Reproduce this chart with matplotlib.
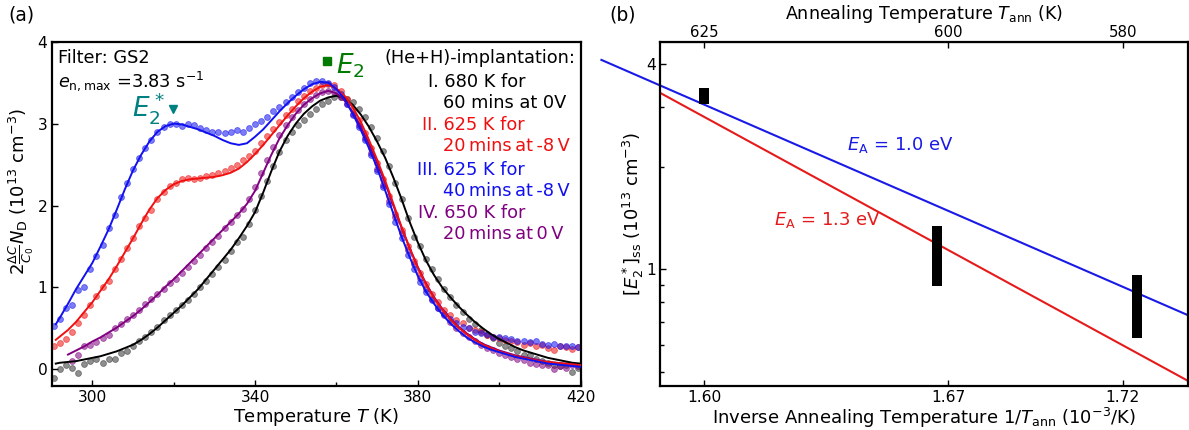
import numpy as np
import matplotlib
matplotlib.use("Agg")
import matplotlib.pyplot as plt
from matplotlib.ticker import FixedLocator, NullFormatter, LogLocator

# ---------------- data : panel (a) ----------------
T_pts = [290.5, 292.0, 293.5, 295.0, 296.5, 298.0, 299.5, 301.0, 302.5, 304.0,
         305.5, 307.0, 308.5, 310.0, 311.5, 313.0, 314.5, 316.0, 317.5, 319.0,
         320.5, 322.0, 323.5, 325.0, 326.5, 328.0, 329.5, 331.0, 332.5, 334.0,
         335.5, 337.0, 338.5, 340.0, 341.5, 343.0, 344.5, 346.0, 347.5, 349.0,
         350.5, 352.0, 353.5, 355.0, 356.5, 358.0, 359.5, 361.0, 362.5, 364.0,
         365.5, 367.0, 368.5, 370.0, 371.5, 373.0, 374.5, 376.0, 377.5, 379.0,
         380.5, 382.0, 383.5, 385.0, 386.5, 388.0, 389.5, 391.0, 392.5, 394.0,
         395.5, 397.0, 398.5, 400.0, 401.5, 403.0, 404.5, 406.0, 407.5, 409.0,
         410.5, 412.0, 413.5, 415.0, 416.5, 418.0, 419.5]

pts_I = [-0.10, 0.00, 0.05, 0.02, -0.05, 0.06, 0.10, 0.12, 0.08, 0.12,
         0.12, 0.20, 0.22, 0.28, 0.35, 0.40, 0.45, 0.52, 0.60, 0.66,
         0.72, 0.78, 0.85, 0.92, 1.00, 1.08, 1.16, 1.25, 1.34, 1.45,
         1.55, 1.62, 1.78, 1.95, 2.12, 2.30, 2.48, 2.65, 2.80, 2.90,
         2.98, 3.05, 3.12, 3.18, 3.24, 3.28, 3.32, 3.32, 3.30, 3.26,
         3.18, 3.08, 2.96, 2.82, 2.66, 2.48, 2.28, 2.08, 1.85, 1.62,
         1.50, 1.35, 1.22, 1.10, 0.98, 0.88, 0.78, 0.70, 0.62, 0.55,
         0.48, 0.42, 0.38, 0.32, 0.28, 0.26, 0.22, 0.18, 0.17, 0.12,
         0.10, 0.08, 0.05, 0.04, 0.05, -0.03, 0.02]

pts_II = [0.28, 0.32, 0.37, 0.45, 0.56, 0.66, 0.78, 0.90, 1.00, 1.08,
          1.22, 1.35, 1.48, 1.60, 1.75, 1.85, 1.95, 2.08, 2.17, 2.24,
          2.28, 2.32, 2.33, 2.32, 2.34, 2.36, 2.37, 2.40, 2.42, 2.46,
          2.50, 2.55, 2.60, 2.67, 2.76, 2.85, 2.93, 3.02, 3.10, 3.18,
          3.27, 3.34, 3.40, 3.44, 3.47, 3.48, 3.47, 3.40, 3.30, 3.18,
          3.04, 2.88, 2.70, 2.52, 2.32, 2.12, 1.90, 1.70, 1.50, 1.32,
          1.17, 1.04, 0.92, 0.82, 0.73, 0.66, 0.60, 0.56, 0.50, 0.48,
          0.45, 0.42, 0.40, 0.38, 0.36, 0.35, 0.33, 0.30, 0.32, 0.29,
          0.30, 0.26, 0.24, 0.28, 0.27, 0.25, 0.27]

pts_III = [0.53, 0.62, 0.75, 0.78, 0.97, 1.00, 1.22, 1.38, 1.52, 1.72,
           1.88, 2.10, 2.28, 2.45, 2.58, 2.70, 2.80, 2.90, 2.96, 3.00,
           3.00, 2.97, 3.00, 2.98, 2.95, 2.92, 2.90, 2.90, 2.88, 2.90,
           2.92, 2.90, 2.95, 3.00, 3.03, 3.08, 3.15, 3.20, 3.26, 3.32,
           3.38, 3.44, 3.50, 3.52, 3.52, 3.50, 3.45, 3.36, 3.24, 3.10,
           2.96, 2.80, 2.62, 2.42, 2.22, 2.02, 1.80, 1.60, 1.40, 1.22,
           1.06, 0.95, 0.85, 0.75, 0.68, 0.62, 0.56, 0.52, 0.50, 0.46,
           0.44, 0.43, 0.40, 0.40, 0.38, 0.37, 0.35, 0.34, 0.33, 0.34,
           0.31, 0.30, 0.31, 0.29, 0.28, 0.28, 0.27]

T_pts_IV = T_pts[3:]
pts_IV = [0.10, 0.18, 0.28, 0.30, 0.33, 0.38, 0.42, 0.50, 0.55, 0.62,
          0.66, 0.73, 0.80, 0.86, 0.92, 0.98, 1.05, 1.10, 1.18, 1.25,
          1.32, 1.40, 1.48, 1.55, 1.63, 1.72, 1.80, 1.88, 1.96, 2.08,
          2.22, 2.40, 2.56, 2.72, 2.86, 2.98, 3.08, 3.16, 3.24, 3.30,
          3.35, 3.38, 3.40, 3.38, 3.33, 3.24, 3.12, 2.98, 2.82, 2.64,
          2.45, 2.25, 2.05, 1.86, 1.66, 1.46, 1.28, 1.12, 0.98, 0.86,
          0.75, 0.66, 0.58, 0.50, 0.44, 0.39, 0.34, 0.30, 0.26, 0.23,
          0.20, 0.17, 0.15, 0.12, 0.11, 0.08, 0.07, 0.05, 0.05, 0.00,
          0.04, 0.02, 0.05, 0.04]

T_fit = [291, 292, 294, 296, 298, 300, 302, 304, 306, 308, 310, 312, 314, 316,
         318, 320, 322, 324, 326, 328, 330, 332, 334, 336, 338, 340, 342, 344,
         346, 348, 350, 352, 354, 356, 358, 360, 362, 364, 366, 368, 370, 372,
         374, 376, 378, 380, 382, 384, 386, 388, 390, 392, 394, 396, 398, 400,
         402, 404, 406, 408, 410, 412, 414, 416, 418, 420]

fit_I = [0.07, 0.08, 0.09, 0.10, 0.12, 0.14, 0.16, 0.19, 0.22, 0.26, 0.30, 0.36,
         0.43, 0.51, 0.60, 0.69, 0.78, 0.88, 0.98, 1.10, 1.22, 1.34, 1.46, 1.60,
         1.75, 1.92, 2.16, 2.42, 2.66, 2.85, 3.00, 3.12, 3.21, 3.28, 3.32, 3.34,
         3.31, 3.23, 3.11, 2.96, 2.78, 2.58, 2.34, 2.08, 1.80, 1.55, 1.33, 1.15,
         1.00, 0.88, 0.77, 0.67, 0.58, 0.50, 0.43, 0.37, 0.32, 0.27, 0.23, 0.20,
         0.17, 0.14, 0.12, 0.10, 0.08, 0.07]

fit_II = [0.36, 0.40, 0.48, 0.58, 0.70, 0.82, 0.96, 1.10, 1.26, 1.43, 1.60, 1.78,
          1.95, 2.09, 2.19, 2.26, 2.30, 2.32, 2.33, 2.34, 2.35, 2.37, 2.40, 2.45,
          2.53, 2.63, 2.74, 2.86, 2.98, 3.10, 3.21, 3.31, 3.39, 3.45, 3.47, 3.43,
          3.34, 3.20, 3.02, 2.80, 2.56, 2.30, 2.02, 1.74, 1.48, 1.24, 1.04, 0.87,
          0.73, 0.61, 0.51, 0.43, 0.36, 0.30, 0.26, 0.22, 0.19, 0.16, 0.14, 0.12,
          0.10, 0.09, 0.08, 0.07, 0.06, 0.05]

fit_III = [0.55, 0.63, 0.80, 0.98, 1.14, 1.30, 1.50, 1.71, 1.95, 2.20, 2.43, 2.62,
           2.78, 2.90, 2.97, 3.00, 2.99, 2.96, 2.93, 2.89, 2.85, 2.80, 2.76, 2.74,
           2.76, 2.84, 2.93, 3.04, 3.15, 3.25, 3.34, 3.42, 3.48, 3.51, 3.50, 3.42,
           3.30, 3.12, 2.92, 2.70, 2.46, 2.18, 1.90, 1.62, 1.37, 1.14, 0.95, 0.80,
           0.67, 0.56, 0.47, 0.39, 0.33, 0.28, 0.24, 0.21, 0.18, 0.15, 0.13, 0.11,
           0.09, 0.07, 0.06, 0.05, 0.04, 0.03]

T_fit_IV = T_fit[2:]
fit_IV = [0.18, 0.23, 0.28, 0.34, 0.39, 0.45, 0.51, 0.58, 0.65, 0.73,
          0.82, 0.91, 1.01, 1.10, 1.20, 1.30, 1.40, 1.50, 1.60, 1.70,
          1.80, 1.90, 2.02, 2.18, 2.40, 2.62, 2.82, 2.98, 3.12, 3.23,
          3.31, 3.37, 3.40, 3.37, 3.28, 3.14, 2.96, 2.75, 2.52, 2.27,
          2.00, 1.73, 1.48, 1.25, 1.05, 0.88, 0.74, 0.62, 0.52, 0.44,
          0.37, 0.31, 0.27, 0.23, 0.20, 0.17, 0.15, 0.13, 0.11, 0.09,
          0.08, 0.07, 0.06, 0.05]

# peak markers (T, signal)
peak_E2 = (357.7, 3.76)
peak_E2s = (319.7, 3.18)

# ---------------- data : panel (b) ----------------
T_ann = [625, 600, 580]
conc_low = [3.06, 0.895, 0.630]
conc_high = [3.40, 1.34, 0.962]
fit10_x = [1.5705, 1.7386]
fit10_y = [4.12, 0.734]
fit13_x = [1.5875, 1.7386]
fit13_y = [3.29, 0.471]
bx_ticks = [1.60, 1.67, 1.72]
bx_labels = ["1.60", "1.67", "1.72"]
top_labels = ["625", "600", "580"]

# ---------------- figure ----------------
W, H = 1189, 430
fig = plt.figure(figsize=(W / 100, H / 100), dpi=100)


def fx(px):
    return px / W


def fy(py):
    return 1 - py / H


axA = fig.add_axes([fx(51.7), fy(385.7), fx(580.5) - fx(51.7), fy(41.7) - fy(385.7)])
axB = fig.add_axes([fx(660), fy(385.7), fx(1187.5) - fx(660), fy(41.7) - fy(385.7)])

C_I, C_II, C_III, C_IV = "black", "#f01010", "#1010f0", "#800080"
TXT = 12.8
TICK = 11.2
LAB = 13

# points
for T, y, c in [(T_pts, pts_I, "#333333"), (T_pts_IV, pts_IV, C_IV),
                (T_pts, pts_II, C_II), (T_pts, pts_III, C_III)]:
    axA.scatter(T, y, s=18, color=c, alpha=0.55, edgecolors=c, linewidths=0.6, zorder=2)
# fits
for T, y, c in [(T_fit, fit_I, C_I), (T_fit_IV, fit_IV, C_IV),
                (T_fit, fit_II, C_II), (T_fit, fit_III, C_III)]:
    axA.plot(T, y, color=c, lw=1.4, zorder=3)

axA.set_xlim(290, 420)
axA.set_ylim(-0.2, 4.0)
axA.set_xticks([300, 340, 380, 420])
axA.set_xticks([320, 360, 400], minor=True)
axA.set_yticks([0, 1, 2, 3, 4])
axA.tick_params(direction="in", length=4, width=1.0, labelsize=TICK, pad=3)
axA.tick_params(which="minor", direction="in", length=3, width=1.0)
for s in axA.spines.values():
    s.set_linewidth(1.6)
axA.set_xlabel("Temperature $T$ (K)", fontsize=LAB, labelpad=1)
axA.set_ylabel(r"$2\frac{\Delta C}{C_0}N_{\rm D}$ ($10^{13}$ cm$^{-3}$)", fontsize=LAB,
               ha="center", va="center")
axA.yaxis.set_label_coords(-0.058, 0.565)

# peak markers
axA.plot([peak_E2[0]], [peak_E2[1]], marker="s", ms=6, color="#007a00", ls="none", zorder=4)
axA.plot([peak_E2s[0]], [peak_E2s[1]], marker="v", ms=6, color="#008080", ls="none", zorder=4)

# texts panel (a)
fig.text(fx(8), fy(15), "(a)", fontsize=13.5, ha="left", va="center")
fig.text(fx(58), fy(63), "Filter: GS2", fontsize=TXT, ha="left", va="baseline")
fig.text(fx(58), fy(87), r"$e_{\rm n,max}$ =3.83 s$^{-1}$", fontsize=TXT, ha="left", va="baseline")
fig.text(fx(336), fy(74), r"$E_2$", fontsize=19, color="#007a00", ha="left", va="baseline")
fig.text(fx(132), fy(116), r"$E_2^*$", fontsize=19, color="#008080", ha="left", va="baseline")
fig.text(fx(575), fy(63), "(He+H)-implantation:", fontsize=TXT, ha="right", va="baseline")
th = "\u2009"
legend_lines = [("I. 680 K for", "60 mins at 0V", C_I, 87),
                ("II. 625 K for", th.join(["20", "mins", "at", "-8", "V"]), C_II, 130),
                ("III. 625 K for", th.join(["40", "mins", "at", "-8", "V"]), C_III, 175),
                ("IV. 650 K for", th.join(["20", "mins", "at", "0", "V"]), C_IV, 218)]
for l1, l2, c, yb in legend_lines:
    fig.text(fx(525), fy(yb), l1, fontsize=TXT, color=c, ha="right", va="baseline")
    fig.text(fx(443), fy(yb + 21), l2, fontsize=TXT, color=c, ha="left", va="baseline")

# ---------------- panel (b) ----------------
inv_T = [1000.0 / t for t in T_ann]
axB.set_yscale("log")
axB.vlines(inv_T, conc_low, conc_high, colors="black", lw=7.2, zorder=3)
axB.plot(fit10_x, fit10_y, color="#1a1ae6", lw=1.5, clip_on=False, zorder=2)
axB.plot(fit13_x, fit13_y, color="#e61a1a", lw=1.5, clip_on=False, zorder=2)
axB.set_xlim(1.5873, 1.7386)
axB.set_ylim(0.455, 4.66)
axB.set_xticks(bx_ticks)
axB.set_xticklabels(bx_labels)
axB.yaxis.set_major_locator(FixedLocator([1, 4]))
axB.set_yticklabels(["1", "4"])
axB.yaxis.set_minor_locator(LogLocator(base=10, subs=(2, 3, 4, 5, 6, 7, 8, 9)))
axB.yaxis.set_minor_formatter(NullFormatter())
axB.tick_params(direction="in", length=4, width=1.0, labelsize=TICK, pad=3)
axB.tick_params(which="minor", direction="in", length=3, width=1.0)
for s in axB.spines.values():
    s.set_linewidth(1.6)
axB.set_xlabel(r"Inverse Annealing Temperature 1/$T_{\rm ann}$ ($10^{-3}$/K)", fontsize=LAB, labelpad=1)
axB.set_ylabel(r"$[E_2^*]_{\rm ss}$ ($10^{13}$ cm$^{-3}$)", fontsize=LAB, ha="center", va="center")
axB.yaxis.set_label_coords(-0.05, 0.5)

sec = axB.secondary_xaxis("top")
sec.set_xticks(bx_ticks)
sec.set_xticklabels(top_labels)
sec.tick_params(direction="in", length=4, width=1.0, labelsize=10.8, pad=1.5)
sec.set_xlabel(r"Annealing Temperature $T_{\rm ann}$ (K)", fontsize=12.6, labelpad=4)

axB.text(1.6408, 2.32, r"$E_{\rm A}$ = 1.0 eV", color="#1a1ae6", fontsize=13, ha="left", va="center")
axB.text(1.6199, 1.40, r"$E_{\rm A}$ = 1.3 eV", color="#e61a1a", fontsize=13, ha="left", va="center")
fig.text(fx(609), fy(15), "(b)", fontsize=13.5, ha="left", va="center")

fig.savefig("out.png", dpi=100)
